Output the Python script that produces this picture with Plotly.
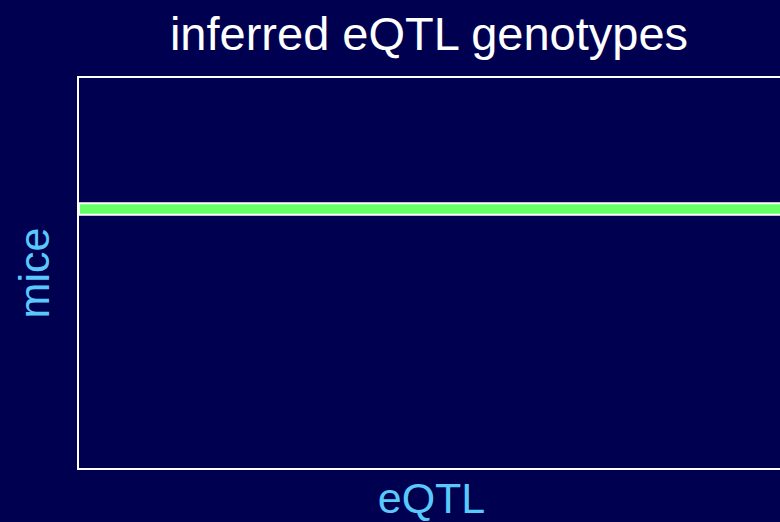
import plotly.graph_objects as go

# Data
n_mice = 30
n_eqtl = 100
highlighted_mouse = [19.93]   # mouse row highlighted
eqtl_span = [n_eqtl]          # bar spans all eQTL

title_text = "inferred eQTL genotypes"
x_title = "eQTL"
y_title = "mice"

bg = "#000050"
fig = go.Figure()
fig.add_trace(go.Bar(
    x=eqtl_span, y=highlighted_mouse, base=[0], orientation="h",
    width=0.88,
    marker=dict(color="#66ff66", line=dict(color="white", width=2)),
    hoverinfo="skip", showlegend=False,
))

W = 786
fig.update_layout(
    width=W, height=522,
    paper_bgcolor=bg, plot_bgcolor=bg,
    margin=dict(l=79, r=0, t=78, b=54),
    font=dict(family="Liberation Sans, Arial, sans-serif"),
    title=dict(text=title_text, x=429 / W, xref="container", xanchor="center",
               y=0.935, yref="container", yanchor="middle",
               font=dict(size=47, color="white")),
    xaxis=dict(range=[0, n_eqtl], showgrid=False, zeroline=False,
               showticklabels=False, ticks="",
               showline=True, linecolor="white", linewidth=2, mirror=True,
               title=dict(text=x_title, font=dict(size=43, color="#5ac8fa"), standoff=14)),
    yaxis=dict(range=[0, n_mice], showgrid=False, zeroline=False,
               showticklabels=False, ticks="",
               showline=True, linecolor="white", linewidth=2, mirror=True,
               title=dict(text=y_title, font=dict(size=43, color="#5ac8fa"), standoff=14)),
)

fig.write_html(
    "out.html",
    config={"displayModeBar": False},
    post_script=("document.body.style.margin='0';"
                 "document.body.style.overflow='hidden';"
                 "document.documentElement.style.overflow='hidden';"
                 "document.body.style.background='%s';" % bg),
)
